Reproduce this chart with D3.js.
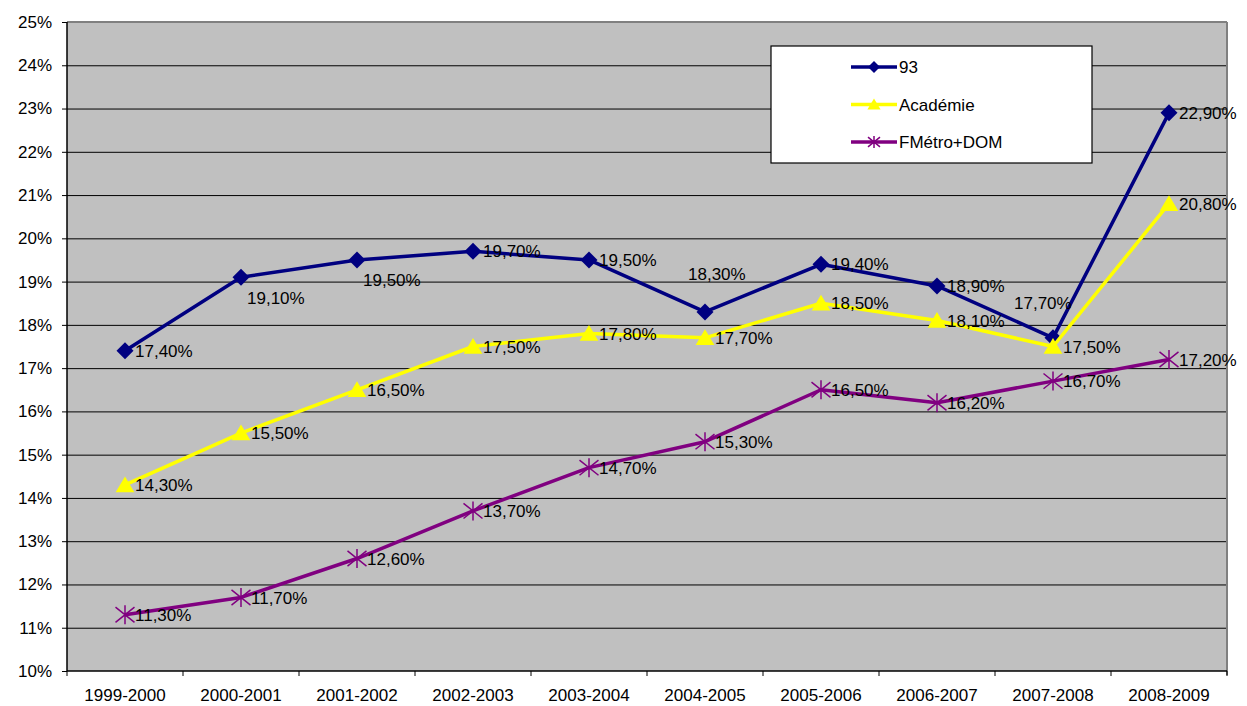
<!DOCTYPE html>
<html>
<head>
<meta charset="utf-8">
<script src="https://cdn.jsdelivr.net/npm/d3@7"></script>
<style>
  body { margin: 0; background: #fff; }
  svg text { font-family: "Liberation Sans", Arial, sans-serif; fill: #000; }
</style>
</head>
<body>
<svg id="chart" width="1247" height="706"></svg>
<script>
const years = ["1999-2000", "2000-2001", "2001-2002", "2002-2003", "2003-2004",
  "2004-2005", "2005-2006", "2006-2007", "2007-2008", "2008-2009"];
const s93 = [17.4, 19.1, 19.5, 19.7, 19.5, 18.3, 19.4, 18.9, 17.7, 22.9];
const academie = [14.3, 15.5, 16.5, 17.5, 17.8, 17.7, 18.5, 18.1, 17.5, 20.8];
const metroDom = [11.3, 11.7, 12.6, 13.7, 14.7, 15.3, 16.5, 16.2, 16.7, 17.2];
const yTicks = [10, 11, 12, 13, 14, 15, 16, 17, 18, 19, 20, 21, 22, 23, 24, 25];

const series = [
  { name: "93", values: s93, color: "#000080", marker: "diamond" },
  { name: "Académie", values: academie, color: "#ffff00", marker: "triangle" },
  { name: "FMétro+DOM", values: metroDom, color: "#800080", marker: "star" }
];

// labels that were moved by hand in the original
const labelShift = {
  "93-1": [6, 21], "93-2": [6, 20], "93-5": [-17, -38], "93-8": [-39, -35]
};

const svg = d3.select("#chart");
const L = 67, R = 1227, T = 22, B = 671;

const x = d3.scaleBand().domain(years).range([L, R]);
const y = d3.scaleLinear().domain([10, 25]).range([B, T]);
const cx = d => x(d) + x.bandwidth() / 2;

svg.append("rect").attr("x", L).attr("y", T).attr("width", R - L).attr("height", B - T)
  .attr("fill", "#c0c0c0");

// gridlines
svg.append("g").attr("transform", `translate(${L},0)`)
  .call(d3.axisLeft(y).tickValues(yTicks.slice(1, -1)).tickSize(-(R - L)).tickFormat(""))
  .call(g => g.select(".domain").remove())
  .call(g => g.selectAll("line").attr("stroke", "#000").attr("stroke-width", 1));

// frame top / right
svg.append("line").attr("x1", L).attr("x2", R).attr("y1", T).attr("y2", T)
  .attr("stroke", "#808080").attr("stroke-width", 2);
svg.append("line").attr("x1", R).attr("x2", R).attr("y1", T).attr("y2", B + 4)
  .attr("stroke", "#808080").attr("stroke-width", 2);

// y axis
const ya = svg.append("g").attr("transform", `translate(${L},0)`)
  .call(d3.axisLeft(y).tickValues(yTicks).tickSize(5).tickPadding(10).tickFormat(d => d + "%"));
ya.select(".domain").attr("stroke", "#000").attr("stroke-width", 1.5).attr("d", `M0,${T}V${B}`);
ya.selectAll("line").attr("stroke", "#000");
ya.selectAll("text").style("font-size", "17px").attr("font-family", null);

// x axis
const xa = svg.append("g").attr("transform", `translate(0,${B})`)
  .call(d3.axisBottom(x).tickSize(0).tickPadding(18));
xa.select(".domain").attr("stroke", "#000").attr("stroke-width", 1.5).attr("d", `M${L},0H${R}`);
xa.selectAll("text").style("font-size", "17px").attr("font-family", null);
xa.selectAll(".edge").data(d3.range(years.length + 1)).join("line")
  .attr("x1", i => L + i * x.step()).attr("x2", i => L + i * x.step())
  .attr("y1", 0).attr("y2", 5).attr("stroke", "#000");

function marker(g, type, color, s) {
  if (type === "diamond") {
    g.append("path").attr("d", `M0,${-s}L${s},0L0,${s}L${-s},0Z`).attr("fill", color);
  } else if (type === "triangle") {
    g.append("path").attr("d", `M0,${-s}L${s * 1.1},${s * 0.85}L${-s * 1.1},${s * 0.85}Z`).attr("fill", color);
  } else {
    g.append("path")
      .attr("d", `M0,${-s}V${s}M${-s},${-s * 0.8}L${s},${s * 0.8}M${-s},${s * 0.8}L${s},${-s * 0.8}`)
      .attr("stroke", color).attr("stroke-width", 1.5).attr("fill", "none");
  }
}

const line = d3.line().x((d, i) => cx(years[i])).y(d => y(d));

for (const s of series) {
  svg.append("path").datum(s.values).attr("d", line)
    .attr("fill", "none").attr("stroke", s.color).attr("stroke-width", 3.5)
    .attr("stroke-linejoin", "round");
  s.values.forEach((v, i) => {
    const g = svg.append("g").attr("transform", `translate(${cx(years[i])},${y(v)})`);
    marker(g, s.marker, s.color, s.marker === "star" ? 9.5 : 8.5);
  });
}

for (const s of series) {
  s.values.forEach((v, i) => {
    const sh = labelShift[s.name + "-" + i] || [10, 0];
    svg.append("text")
      .attr("x", cx(years[i]) + sh[0]).attr("y", y(v) + sh[1])
      .attr("dy", "0.36em").style("font-size", "17px")
      .text(v.toFixed(2).replace(".", ",") + "%");
  });
}

// legend
const lg = svg.append("g");
lg.append("rect").attr("x", 771).attr("y", 46).attr("width", 321).attr("height", 117)
  .attr("fill", "#fff").attr("stroke", "#000").attr("stroke-width", 1.2);
series.forEach((s, i) => {
  const ly = 67 + i * 37.5;
  lg.append("line").attr("x1", 851).attr("x2", 897).attr("y1", ly).attr("y2", ly)
    .attr("stroke", s.color).attr("stroke-width", 3.5);
  marker(lg.append("g").attr("transform", `translate(874,${ly})`), s.marker, s.color, 6);
  lg.append("text").attr("x", 899).attr("y", ly).attr("dy", "0.36em")
    .style("font-size", "17px").text(s.name);
});
</script>
</body>
</html>
